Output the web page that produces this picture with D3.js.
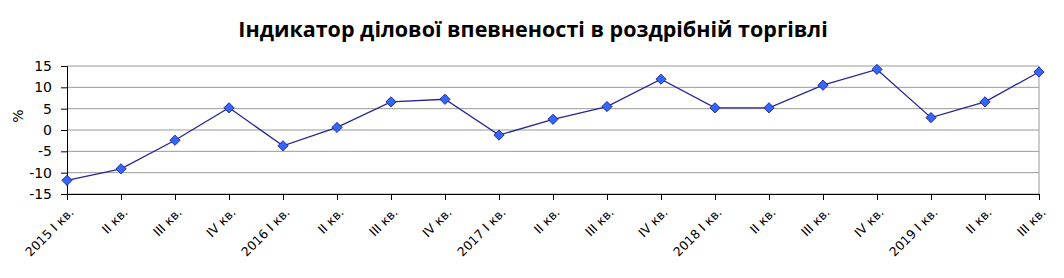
<!DOCTYPE html>
<html>
<head>
<meta charset="utf-8">
<script src="https://cdn.jsdelivr.net/npm/d3@7"></script>
<style>
  body { margin: 0; background: #fff; }
  svg { display: block; }
</style>
</head>
<body>
<div id="chart"></div>
<script>
// Data
var years = ["2015", "", "", "", "2016", "", "", "", "2017", "", "", "", "2018", "", "", "", "2019", "", ""];
var quarters = ["I", "II", "III", "IV", "I", "II", "III", "IV", "I", "II", "III", "IV", "I", "II", "III", "IV", "I", "II", "III"];
var values = [-11.8, -9.1, -2.4, 5.2, -3.7, 0.6, 6.6, 7.2, -1.2, 2.5, 5.5, 11.9, 5.2, 5.2, 10.5, 14.2, 2.9, 6.6, 13.6];
var yTicks = [-15, -10, -5, 0, 5, 10, 15];

var labels = quarters.map((q, i) => (years[i] ? years[i] + " " : "") + q + " кв.");

var width = 1064, height = 278;
var margin = { left: 67, right: 25, top: 66, bottom: 84 };

var svg = d3.select("#chart").append("svg")
    .attr("width", width)
    .attr("height", height);

var x = d3.scalePoint()
    .domain(d3.range(values.length))
    .range([margin.left, width - margin.right]);

var y = d3.scaleLinear()
    .domain([-15, 15])
    .range([height - margin.bottom, margin.top]);

// Title
svg.append("text")
    .attr("x", 533)
    .attr("y", 37)
    .attr("text-anchor", "middle")
    .style("font-family", "'Open Sans', sans-serif")
    .style("font-weight", "bold")
    .style("font-size", "21.5px")
    .text("Індикатор ділової впевненості в роздрібній торгівлі");

// Gridlines
svg.append("g")
    .selectAll("line")
    .data(yTicks)
    .enter().append("line")
    .attr("x1", margin.left)
    .attr("x2", width - margin.right)
    .attr("y1", d => y(d))
    .attr("y2", d => y(d))
    .attr("stroke", "#999")
    .attr("stroke-width", 1);

// Right border
svg.append("line")
    .attr("x1", width - margin.right).attr("x2", width - margin.right)
    .attr("y1", y(15)).attr("y2", y(-15))
    .attr("stroke", "#999");

// Y axis
var yAxis = svg.append("g")
    .attr("transform", "translate(" + margin.left + ",0)")
    .call(d3.axisLeft(y).tickValues(yTicks).tickSize(6).tickPadding(9).tickFormat(d => String(d)));
yAxis.select(".domain").attr("stroke", "#000");
yAxis.selectAll("text")
    .style("font-family", "'DejaVu Sans', sans-serif")
    .style("font-size", "14px")
    .attr("fill", "#000");

// X axis
var xAxis = svg.append("g")
    .attr("transform", "translate(0," + y(-15) + ")")
    .call(d3.axisBottom(x).tickSize(6).tickSizeOuter(0).tickFormat(i => labels[i]));
xAxis.select(".domain").attr("stroke", "#000");
xAxis.selectAll("text")
    .style("font-family", "'DejaVu Sans', sans-serif")
    .style("font-size", "12.5px")
    .attr("fill", "#000")
    .attr("text-anchor", "end")
    .attr("x", 0)
    .attr("y", 0)
    .attr("dy", "0.35em")
    .attr("transform", "translate(4,16) rotate(-45)");

// Y axis title
svg.append("text")
    .attr("transform", "translate(23,116) rotate(-90)")
    .attr("text-anchor", "middle")
    .style("font-family", "'DejaVu Sans', sans-serif")
    .style("font-size", "14px")
    .text("%");

// Line
var line = d3.line()
    .x((d, i) => x(i))
    .y(d => y(d));

svg.append("path")
    .datum(values)
    .attr("d", line)
    .attr("fill", "none")
    .attr("stroke", "#262694")
    .attr("stroke-width", 1.3);

// Markers (rotated squares)
svg.append("g")
    .selectAll("path")
    .data(values)
    .enter().append("path")
    .attr("d", d3.symbol().type(d3.symbolSquare).size(52))
    .attr("transform", (d, i) => "translate(" + x(i) + "," + y(d) + ") rotate(45)")
    .attr("fill", "#3366ff")
    .attr("stroke", "#1a1a80")
    .attr("stroke-width", 0.8);
</script>
</body>
</html>
